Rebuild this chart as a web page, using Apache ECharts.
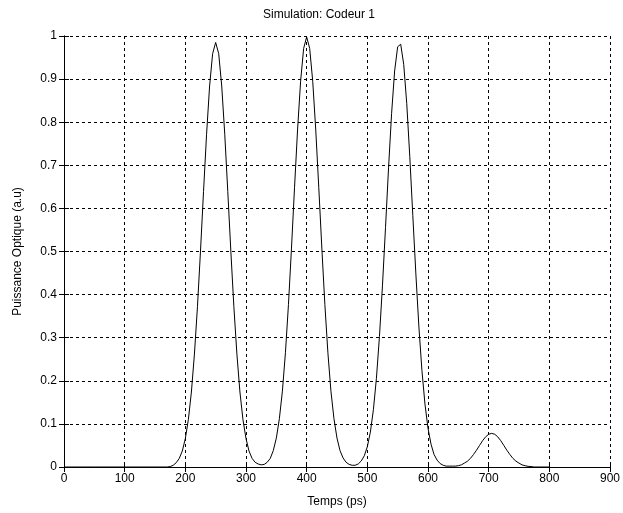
<!DOCTYPE html>
<html>
<head>
<meta charset="utf-8">
<title>Simulation: Codeur 1</title>
<script src="https://cdn.jsdelivr.net/npm/echarts@6/dist/echarts.min.js"></script>
<style>
  html, body { margin: 0; padding: 0; background: #fff; }
  #chart { width: 623px; height: 513px; }
</style>
</head>
<body>
<div id="chart"></div>
<script>
// temps (ps)
const temps = [
  0, 50, 100, 150, 170, 175, 180, 185, 190, 195,
  200, 205, 210, 215, 220, 225, 230, 235, 240, 245,
  250, 255, 260, 265, 270, 275, 280, 285, 290, 295,
  300, 305, 310, 315, 320, 325, 330, 335, 340, 345,
  350, 355, 360, 365, 370, 375, 380, 385, 390, 395,
  400, 405, 410, 415, 420, 425, 430, 435, 440, 445,
  450, 455, 460, 465, 470, 475, 480, 485, 490, 495,
  500, 505, 510, 515, 520, 525, 530, 535, 540, 545,
  550, 555, 560, 565, 570, 575, 580, 585, 590, 595,
  600, 605, 610, 615, 620, 625, 630, 635, 640, 645,
  650, 655, 660, 665, 670, 675, 680, 685, 690, 695,
  700, 705, 710, 715, 720, 725, 730, 735, 740, 745,
  750, 755, 760, 765, 770, 775, 800
]
// puissance optique (a.u)
const puissance = [
  0, 0, 0, 0, 0, 0.001, 0.004, 0.010, 0.020, 0.037,
  0.066, 0.110, 0.174, 0.262, 0.372, 0.501, 0.639, 0.772, 0.884, 0.959,
  0.985, 0.959, 0.884, 0.772, 0.639, 0.501, 0.372, 0.262, 0.174, 0.110,
  0.066, 0.037, 0.020, 0.011, 0.007, 0.005, 0.006, 0.011, 0.020, 0.038,
  0.067, 0.112, 0.176, 0.265, 0.377, 0.508, 0.648, 0.782, 0.895, 0.971,
  0.998, 0.971, 0.895, 0.782, 0.648, 0.508, 0.377, 0.265, 0.176, 0.112,
  0.067, 0.038, 0.021, 0.011, 0.006, 0.004, 0.004, 0.007, 0.014, 0.026,
  0.047, 0.081, 0.133, 0.206, 0.303, 0.422, 0.556, 0.694, 0.820, 0.919,
  0.975, 0.981, 0.934, 0.843, 0.720, 0.583, 0.448, 0.325, 0.224, 0.146,
  0.090, 0.053, 0.029, 0.016, 0.008, 0.004, 0.002, 0.002, 0.002, 0.002,
  0.003, 0.005, 0.009, 0.0135, 0.020, 0.029, 0.039, 0.050, 0.061, 0.070,
  0.076, 0.078, 0.076, 0.070, 0.061, 0.050, 0.039, 0.029, 0.020, 0.0135,
  0.009, 0.005, 0.003, 0.0015, 0.001, 0, 0
]

const font = 'Arial, "Liberation Sans", Helvetica, sans-serif'
const black = '#000'

const chart = echarts.init(document.getElementById('chart'), null, { renderer: 'canvas' })

// box axes (top/right) only carry inward ticks, like matlab
const boxAxis = (extra) => Object.assign({
  type: 'value',
  axisLine: { show: true, lineStyle: { color: black, width: 1 } },
  axisTick: { show: true, inside: true, length: 5, lineStyle: { color: black } },
  axisLabel: { show: false },
  splitLine: { show: false }
}, extra)

chart.setOption({
  animation: false,
  backgroundColor: '#fff',
  title: {
    text: 'Simulation: Codeur 1',
    top: 4,
    left: 314,
    textAlign: 'center',
    textStyle: { fontFamily: font, fontSize: 12, fontWeight: 'normal', color: black }
  },
  grid: { left: 64, right: 10, top: 36, bottom: 45 },
  xAxis: [
    {
      type: 'value',
      min: 0,
      max: 900,
      interval: 100,
      name: 'Temps (ps)',
      nameLocation: 'middle',
      nameGap: 29,
      nameTextStyle: { fontFamily: font, fontSize: 12, color: black },
      axisLine: { show: true, onZero: false, lineStyle: { color: black, width: 1 } },
      axisTick: { show: true, inside: true, length: 5, lineStyle: { color: black } },
      axisLabel: { fontFamily: font, fontSize: 12, color: black, margin: 6 },
      splitLine: { show: true, lineStyle: { color: black, width: 1, type: [3, 3] } }
    },
    boxAxis({ position: 'top', min: 0, max: 900, interval: 100 })
  ],
  yAxis: [
    {
      type: 'value',
      min: 0,
      max: 1,
      interval: 0.1,
      name: 'Puissance Optique (a.u)',
      nameLocation: 'middle',
      nameGap: 40,
      nameTextStyle: { fontFamily: font, fontSize: 12, color: black },
      axisLine: { show: true, onZero: false, lineStyle: { color: black, width: 1 } },
      axisTick: { show: true, inside: true, length: 5, lineStyle: { color: black } },
      axisLabel: { fontFamily: font, fontSize: 12, color: black, margin: 7 },
      splitLine: { show: true, lineStyle: { color: black, width: 1, type: [3, 3] } }
    },
    boxAxis({ position: 'right', min: 0, max: 1, interval: 0.1 })
  ],
  series: [
    {
      type: 'line',
      data: temps.map((t, i) => [t, puissance[i]]),
      showSymbol: false,
      smooth: false,
      lineStyle: { color: black, width: 1 },
      itemStyle: { color: black }
    }
  ]
})
</script>
</body>
</html>
